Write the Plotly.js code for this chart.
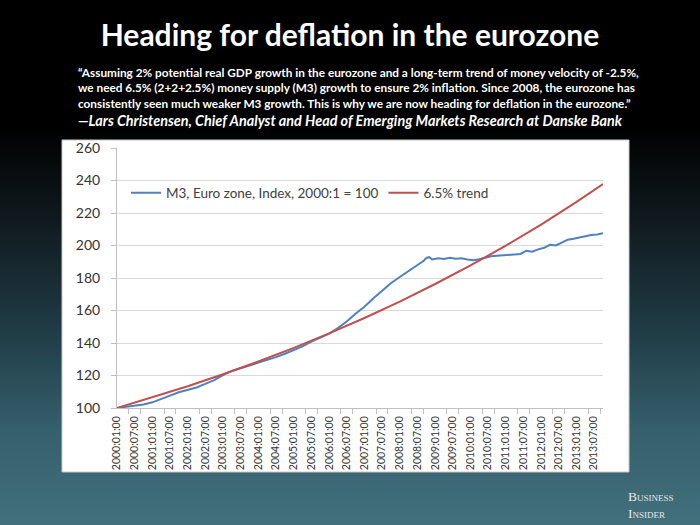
<!DOCTYPE html>
<html>
<head>
<meta charset="utf-8">
<script src="https://cdn.plot.ly/plotly-3.0.1.min.js"></script>
<style>
  html, body { margin: 0; padding: 0; }
  body {
    width: 700px; height: 525px; overflow: hidden;
    background: linear-gradient(to bottom, #000000 0%, #000000 24%, #101a1e 42%, #1f3a44 62%, #35606c 82%, #42707d 100%);
  }
  #chart { width: 700px; height: 525px; }
</style>
</head>
<body>
<div id="chart"></div>
<script>
// ---- Data ----
const m3Dates = [
  '2000-01-01','2000-04-01','2000-07-01','2000-10-01',
  '2001-01-01','2001-04-01','2001-07-01','2001-10-01',
  '2002-01-01','2002-04-01','2002-07-01','2002-10-01',
  '2003-01-01','2003-04-01','2003-07-01','2003-10-01',
  '2004-01-01','2004-04-01','2004-07-01','2004-10-01',
  '2005-01-01','2005-04-01','2005-07-01','2005-10-01',
  '2006-01-01','2006-04-01','2006-07-01','2006-10-01',
  '2007-01-01','2007-04-01','2007-07-01','2007-10-01',
  '2008-01-01','2008-04-01','2008-07-01','2008-09-01','2008-10-01','2008-11-01','2008-12-01',
  '2009-02-01','2009-04-01','2009-06-01','2009-08-01','2009-10-01','2009-12-01',
  '2010-02-01','2010-04-01','2010-06-01','2010-08-01','2010-10-01','2010-12-01',
  '2011-02-01','2011-04-01','2011-06-01','2011-08-01','2011-10-01','2011-12-01',
  '2012-02-01','2012-04-01','2012-06-01','2012-08-01','2012-10-01','2012-12-01',
  '2013-02-01','2013-04-01','2013-06-01','2013-08-01','2013-10-01'
];
const m3Values = [
  100.0, 100.6, 101.3, 102.2,
  103.5, 105.3, 107.6, 109.7,
  111.4, 112.6, 114.8, 117.2,
  120.3, 122.8, 124.5, 126.2,
  127.8, 129.6, 131.3, 133.4,
  135.5, 137.9, 140.8, 143.2,
  145.8, 149.2, 153.2, 158.0,
  162.3, 167.4, 172.2, 176.8,
  180.6, 184.2, 187.8, 190.4, 192.3, 192.8, 191.4,
  192.1, 191.7, 192.4, 191.8, 192.2, 191.4,
  191.0, 191.6, 192.4, 193.4, 193.7, 194.0,
  194.2, 194.4, 194.8, 196.8, 196.2, 197.6,
  198.6, 200.4, 200.0, 201.8, 203.6, 204.2,
  205.0, 205.6, 206.4, 206.8, 207.6
];
const trendDates = [
  '2000-01-01','2001-01-01','2002-01-01','2003-01-01','2004-01-01',
  '2005-01-01','2006-01-01','2007-01-01','2008-01-01','2009-01-01',
  '2010-01-01','2011-01-01','2012-01-01','2013-01-01','2013-10-01'
];
const trendValues = [
  100.0, 106.5, 113.4, 120.8, 128.6,
  137.0, 145.9, 155.4, 165.5, 176.3,
  187.7, 199.9, 212.9, 226.8, 237.8
];
const seriesNames = ['M3, Euro zone, Index, 2000:1 = 100', '6.5% trend'];
const titleText = 'Heading for deflation in the eurozone';
const quoteText = '“Assuming 2% potential real GDP growth in the eurozone and a long-term trend of money velocity of -2.5%,<br>' +
  'we need 6.5% (2+2+2.5%) money supply (M3) growth to ensure 2% inflation. Since 2008, the eurozone has<br>' +
  'consistently seen much weaker M3 growth. This is why we are now heading for deflation in the eurozone.”';
const attributionText = '—Lars Christensen, Chief Analyst and Head of Emerging Markets Research at Danske Bank';
const logoLines = ['Business', 'Insider'];

// ---- Layout helpers (pixel -> paper) ----
const PL = 117, PR = 603, PT = 148, PB = 408;
const xp = px => (px - PL) / (PR - PL);
const yp = py => (PB - py) / (PB - PT);

const traces = [
  { x: m3Dates, y: m3Values, name: seriesNames[0], type: 'scatter', mode: 'lines',
    line: { color: '#4f81bd', width: 2 }, hoverinfo: 'skip' },
  { x: trendDates, y: trendValues, name: seriesNames[1], type: 'scatter', mode: 'lines',
    line: { color: '#c0504d', width: 2 }, hoverinfo: 'skip' }
];

const logoFont = { family: '"Liberation Serif", "DejaVu Serif", serif', size: 13.5, variant: 'small-caps', color: '#e6e6e6' };

const layout = {
  width: 700, height: 525, autosize: false,
  margin: { l: PL, r: 700 - PR, t: PT, b: 525 - PB, pad: 0 },
  paper_bgcolor: 'rgba(0,0,0,0)',
  plot_bgcolor: '#ffffff',
  font: { family: 'Lato, "Open Sans", sans-serif', color: '#333333' },
  title: {
    text: titleText, xref: 'container', yref: 'container', x: 0.5, y: 1 - 35 / 525,
    xanchor: 'center', yanchor: 'middle',
    font: { family: 'Lato, sans-serif', size: 30, weight: 700, color: '#ffffff' }
  },
  showlegend: true,
  legend: {
    orientation: 'h', x: xp(126), y: yp(193), xanchor: 'left', yanchor: 'middle',
    bgcolor: 'rgba(0,0,0,0)', itemgap: 2, itemwidth: 30,
    font: { family: 'Lato, sans-serif', size: 13.5, color: '#404040' }
  },
  xaxis: {
    type: 'date', range: ['2000-01-01', '2013-10-01'],
    showgrid: false, zeroline: false,
    showline: true, linecolor: '#bfbfbf', linewidth: 1,
    tickmode: 'linear', tick0: '2000-01-01', dtick: 'M6',
    tickformat: '%Y:%m:00', tickangle: -90,
    ticks: '', ticklabelstandoff: 3,
    tickfont: { family: 'Lato, sans-serif', size: 10.5, color: '#333333' },
    minor: { ticks: 'outside', ticklen: 5, tickcolor: '#bfbfbf', tick0: '2000-01-01', dtick: 'M4', showgrid: false },
    fixedrange: true
  },
  yaxis: {
    range: [100, 260], tickmode: 'linear', tick0: 100, dtick: 20,
    showgrid: true, gridcolor: '#d9d9d9', gridwidth: 1, zeroline: false,
    showline: true, linecolor: '#bfbfbf', linewidth: 1,
    ticks: 'outside', ticklen: 5, tickcolor: '#bfbfbf', ticklabelstandoff: 8,
    tickfont: { family: 'Lato, sans-serif', size: 14, color: '#333333' },
    fixedrange: true
  },
  shapes: [
    { type: 'rect', xref: 'paper', yref: 'paper', layer: 'below',
      x0: xp(62), x1: xp(629), y0: yp(472), y1: yp(140),
      fillcolor: '#ffffff', line: { color: '#c8c8c8', width: 1 } }
  ],
  annotations: [
    { text: quoteText, xref: 'paper', yref: 'paper', x: xp(76), y: yp(63),
      xanchor: 'left', yanchor: 'top', align: 'left', showarrow: false,
      font: { family: 'Lato, sans-serif', size: 11.8, weight: 700, color: '#ffffff' } },
    { text: attributionText, xref: 'paper', yref: 'paper', x: xp(76), y: yp(121),
      xanchor: 'left', yanchor: 'middle', align: 'left', showarrow: false,
      font: { family: 'Lato, sans-serif', size: 14.4, weight: 700, style: 'italic', color: '#ffffff' } },
    { text: logoLines[0], xref: 'paper', yref: 'paper', x: xp(627), y: yp(504.5),
      xanchor: 'left', yanchor: 'bottom', align: 'left', showarrow: false, borderpad: 0, font: logoFont },
    { text: logoLines[1], xref: 'paper', yref: 'paper', x: xp(627), y: yp(504.5),
      xanchor: 'left', yanchor: 'top', align: 'left', showarrow: false, borderpad: 0, font: logoFont }
  ]
};

Plotly.newPlot('chart', traces, layout, { staticPlot: true, displayModeBar: false });
</script>
</body>
</html>
